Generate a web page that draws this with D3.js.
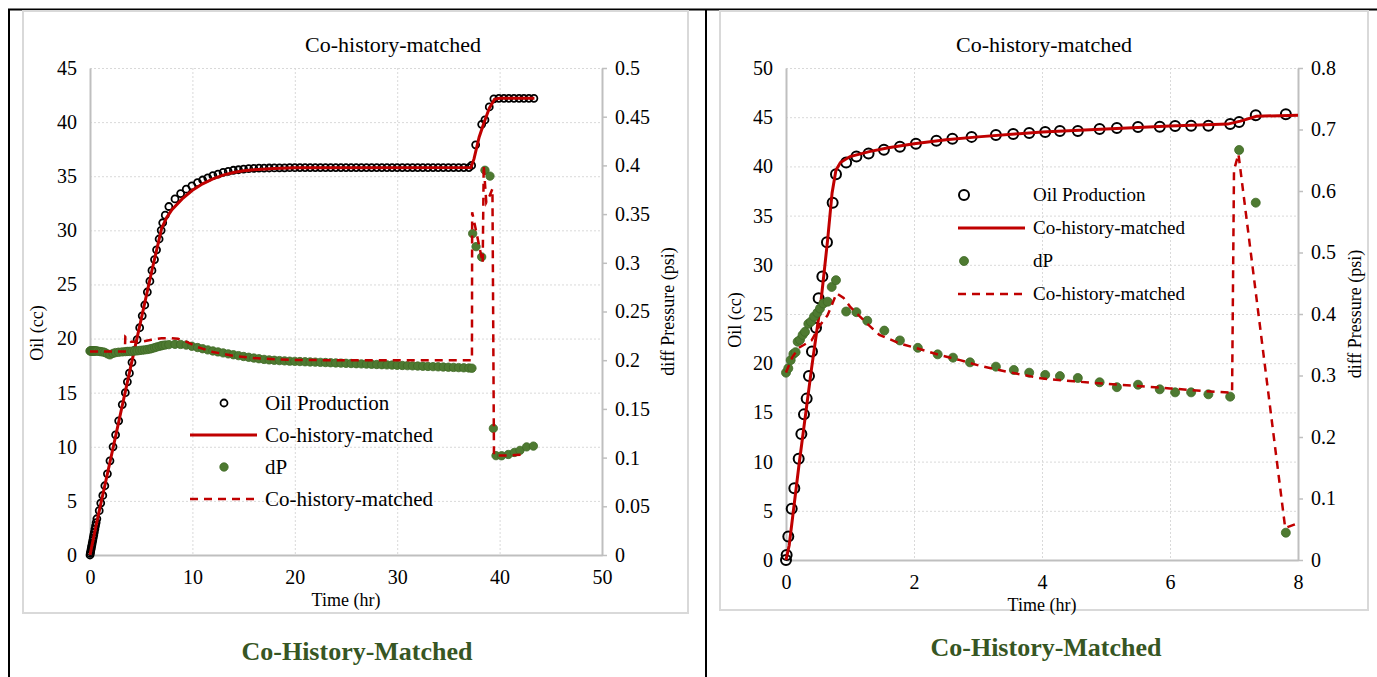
<!DOCTYPE html>
<html>
<head>
<meta charset="utf-8">
<script src="https://cdn.jsdelivr.net/npm/d3@7"></script>
<style>
body { margin: 0; background: #fff; }
svg text { font-family: "Liberation Serif", "Times New Roman", serif; fill: #000; }
</style>
</head>
<body>
<script>
// ---- left test (0-50 hr) ----
var leftOilTime = [0,0.03,0.06,0.1,0.14,0.18,0.22,0.27,0.32,0.37,0.42,0.48,0.54,0.6,0.67,
  0.9,1.05,1.25,1.45,1.7,1.95,2.25,2.5,2.8,3.15,3.45,3.65,3.85,4.1,4.35,4.6,4.85,5.1,5.35,5.6,5.85,6.05,6.3,6.5,6.75,6.95,7.1,7.35,7.7,
  8.3,8.85,9.4,9.95,10.5,11,11.5,12,12.5,13,13.5,14,14.5,15,15.5,16,
  16.5,17,17.5,18,18.5,19,19.5,20,20.5,21,21.5,22,22.5,23,23.5,24,24.5,25,25.5,26,26.5,27,27.5,28,28.5,29,29.5,30,30.5,31,31.5,32,32.5,33,33.5,34,34.5,35,35.5,36,36.5,37,
  37.27,37.66,38.25,38.57,38.99,39.44,39.93,40.42,40.9,41.4,41.9,42.37,42.86,43.35];
var leftOil = [0,0.15,0.3,0.5,0.7,0.9,1.1,1.35,1.6,1.85,2.1,2.4,2.7,3.0,3.35,
  4.1,4.8,5.5,6.4,7.5,8.7,10.0,11.1,12.4,13.9,15.0,16.0,16.8,17.8,18.9,19.9,21.0,22.1,23.1,24.3,25.3,26.3,27.3,28.2,29.2,30.0,30.7,31.4,32.2,
  32.9,33.4,33.8,34.1,34.4,34.65,34.85,35.05,35.2,35.35,35.45,35.55,35.6,35.65,35.7,35.72,
  35.74,35.75,35.76,35.77,35.78,35.78,35.79,35.79,35.8,35.8,35.8,35.8,35.8,35.8,35.8,35.8,35.8,35.8,35.8,35.8,35.8,35.8,35.8,35.8,35.8,35.8,35.8,35.8,35.8,35.8,35.8,35.8,35.8,35.8,35.8,35.8,35.8,35.8,35.8,35.8,35.8,35.8,
  36.0,37.9,39.8,40.2,41.4,42.15,42.2,42.2,42.2,42.2,42.2,42.2,42.2,42.2];

var leftMatchTime = [0,0.7,2,4,6,7,7.5,8,9,10,11,12,13,14,15,16,18,20,37.2,37.5,38,38.5,39,39.5,40,43.4];
var leftMatch = [0,3.2,8.8,17.5,26.1,30.2,31.2,31.9,32.9,33.7,34.3,34.75,35.1,35.35,35.5,35.6,35.72,35.78,35.8,36.6,38.6,40.0,41.3,42.1,42.2,42.2];

var leftDpTime = [0,0.05,0.1,0.15,0.2,0.25,0.3,0.35,0.4,0.45,0.5,0.6,0.7,
  0.9,1.05,1.25,1.45,1.7,1.95,2.25,2.5,2.8,3.15,3.45,3.65,3.85,4.1,4.35,4.6,4.85,5.1,5.35,5.6,5.85,6.05,6.3,6.5,6.75,6.95,7.1,7.35,7.7,
  8.3,8.85,9.4,9.95,10.5,11,11.5,12,12.5,13,13.5,14,14.5,15,15.5,16,16.5,17,17.5,18,18.5,19,19.5,20,20.5,21,21.5,22,22.5,23,23.5,24,24.5,25,
  25.5,26,26.5,27,27.5,28,28.5,29,29.5,30,30.5,31,31.5,32,32.5,33,33.5,34,34.5,35,35.5,36,36.5,37,37.3,
  37.37,37.7,38.25,38.57,39.06,39.39,39.65,40.2,40.85,41.44,41.99,42.64,43.3];
var leftDp = [0.2095,0.2095,0.2095,0.2095,0.2095,0.2095,0.2095,0.2095,0.2095,0.2095,0.2095,0.2095,0.2095,
  0.209,0.2088,0.2085,0.208,0.2065,0.2055,0.207,0.2078,0.2082,0.2085,0.2088,0.209,0.209,0.2092,0.2094,0.2096,0.21,0.2103,0.2106,0.211,0.2115,0.212,0.2128,0.2135,0.2142,0.2148,0.2152,0.2156,0.216,
  0.2163,0.2162,0.2155,0.2143,0.213,0.2118,0.2106,0.2095,0.2085,0.2075,0.2065,0.2056,0.2047,0.2038,0.203,0.2022,0.2015,0.2008,0.2003,0.1999,0.1996,0.1993,0.199,0.1988,0.1986,0.1984,0.1982,0.198,0.1978,0.1976,0.1974,0.1972,0.197,0.1968,
  0.1966,0.1964,0.1962,0.196,0.1958,0.1956,0.1954,0.1952,0.195,0.1948,0.1946,0.1944,0.1942,0.194,0.1938,0.1936,0.1934,0.1932,0.193,0.1928,0.1926,0.1924,0.1922,0.192,0.1918,
  0.330,0.3166,0.306,0.395,0.389,0.130,0.102,0.1019,0.1032,0.1053,0.1074,0.111,0.1118];

var leftFitTime = [0,3.4,3.45,4,5,6,7,7.8,8.6,9.4,10.5,12,14,16,18,20,23,30,37.3,37.32,37.6,38.35,38.45,38.7,39.0,39.3,39.45,40.5,41.5,42.6];
var leftFit = [0.209,0.209,0.224,0.219,0.219,0.221,0.2225,0.2228,0.222,0.219,0.2135,0.2085,0.2045,0.2022,0.201,0.2003,0.2,0.2,0.2,0.352,0.338,0.300,0.400,0.362,0.368,0.376,0.102,0.1022,0.1026,0.103];

// ---- right test (0-8 hr) ----
var rightOilTime = [0,0.01,0.036,0.089,0.13,0.198,0.24,0.281,0.323,0.359,0.406,0.469,0.51,0.568,0.64,0.729,0.781,
  0.94,1.1,1.29,1.53,1.78,2.03,2.35,2.6,2.9,3.28,3.55,3.8,4.05,4.28,4.56,4.9,5.17,5.5,5.84,6.08,6.33,6.6,6.94,7.08,7.34,7.81];
var rightOil = [0,0.5,2.4,5.2,7.3,10.3,12.8,14.8,16.4,18.7,21.2,23.6,26.6,28.8,32.3,36.3,39.2,
  40.4,41.0,41.3,41.7,42.0,42.3,42.6,42.8,43.0,43.2,43.3,43.4,43.5,43.6,43.6,43.8,43.9,44.0,44.03,44.1,44.14,44.14,44.3,44.5,45.2,45.3];

var rightMatchTime = [0,0.05,0.2,0.4,0.55,0.65,0.72,0.78,0.85,1.0,1.3,1.6,2.0,2.5,3,4,5,6,6.9,7.1,7.35,8.0];
var rightMatch = [0,1.5,9.5,19.5,26.5,32.5,37.3,39.6,40.4,41.0,41.5,41.9,42.3,42.7,43.0,43.5,43.8,44.1,44.3,44.6,45.1,45.2];

var rightDpTime = [0,0.036,0.073,0.115,0.15,0.182,0.219,0.26,0.297,0.349,0.39,0.4375,0.49,0.531,0.583,0.651,0.714,0.781,
  0.94,1.1,1.27,1.536,1.78,2.06,2.37,2.61,2.875,3.28,3.56,3.8,4.05,4.28,4.56,4.9,5.17,5.5,5.84,6.08,6.33,6.6,6.94,7.08,7.34,7.81];
var rightDp = [0.3046,0.3117,0.325,0.335,0.338,0.355,0.358,0.366,0.371,0.384,0.3875,0.3957,0.402,0.409,0.417,0.42,0.444,0.455,
  0.404,0.403,0.389,0.373,0.357,0.345,0.3344,0.329,0.3214,0.3144,0.309,0.3046,0.301,0.299,0.296,0.289,0.281,0.285,0.2775,0.2726,0.2726,0.2694,0.2656,0.6667,0.581,0.0444];

var rightFitTime = [0,0.1,0.2,0.4,0.52,0.65,0.79,0.9,1.0,1.26,1.46,1.78,2.1,2.41,2.72,3.04,3.46,3.98,4.5,5.0,5.5,6.0,6.5,6.97,7.0,7.07,7.8,8.0];
var rightFit = [0.305,0.33,0.345,0.357,0.38,0.398,0.4336,0.426,0.412,0.385,0.366,0.352,0.3426,0.333,0.325,0.3154,0.306,0.2954,0.2905,0.2865,0.283,0.279,0.275,0.272,0.634,0.66,0.052,0.06];

var legendLabels = ['Oil Production', 'Co-history-matched', 'dP', 'Co-history-matched'];
var chartTitle = 'Co-history-matched';
var caption = 'Co-History-Matched';

var RED = '#c00000', GREEN = '#4e7a31', GRID = '#d9d9d9', AXIS = '#bfbfbf';

var svg = d3.select('body').append('svg')
  .attr('width', 1377)
  .attr('height', 677);

// table borders
svg.append('line').attr('x1', 8).attr('x2', 1377).attr('y1', 9.5).attr('y2', 9.5).attr('stroke', '#000').attr('stroke-width', 2);
svg.append('line').attr('x1', 9).attr('x2', 9).attr('y1', 9).attr('y2', 677).attr('stroke', '#000').attr('stroke-width', 2);
svg.append('line').attr('x1', 706).attr('x2', 706).attr('y1', 9).attr('y2', 677).attr('stroke', '#000').attr('stroke-width', 2);

// chart frames
svg.append('rect').attr('x', 23).attr('y', 11).attr('width', 665).attr('height', 602)
  .attr('fill', 'none').attr('stroke', GRID).attr('stroke-width', 2);
svg.append('rect').attr('x', 720).attr('y', 11).attr('width', 648).attr('height', 599)
  .attr('fill', 'none').attr('stroke', GRID).attr('stroke-width', 2);

function fmt(d) { return String(+d.toFixed(2)); }

function panel(o) {
  var x = d3.scaleLinear().domain(o.xDomain).range([o.left, o.right]);
  var y = d3.scaleLinear().domain(o.yDomain).range([o.bottom, o.top]);
  var y2 = d3.scaleLinear().domain(o.y2Domain).range([o.bottom, o.top]);
  var g = svg.append('g');

  // grid
  g.selectAll('.hgrid').data(o.yTicks.slice(1)).enter().append('line')
    .attr('x1', o.left).attr('x2', o.right)
    .attr('y1', function(d) { return y(d) + 0.5; }).attr('y2', function(d) { return y(d) + 0.5; })
    .attr('stroke', GRID).attr('stroke-dasharray', '2,2');
  g.selectAll('.vgrid').data(o.xTicks.slice(1, -1)).enter().append('line')
    .attr('y1', o.top).attr('y2', o.bottom)
    .attr('x1', function(d) { return x(d) + 0.5; }).attr('x2', function(d) { return x(d) + 0.5; })
    .attr('stroke', GRID).attr('stroke-dasharray', '2,2');

  // axes
  var ax = g.append('g').attr('transform', 'translate(' + o.left + ',0)')
    .call(d3.axisLeft(y).tickValues(o.yTicks).tickSize(0).tickPadding(13).tickFormat(fmt));
  var bx = g.append('g').attr('transform', 'translate(0,' + o.bottom + ')')
    .call(d3.axisBottom(x).tickValues(o.xTicks).tickSize(0).tickPadding(15).tickFormat(fmt));
  var rx = g.append('g').attr('transform', 'translate(' + o.right + ',0)')
    .call(d3.axisRight(y2).tickValues(o.y2Ticks).tickSize(5).tickSizeOuter(0).tickPadding(8).tickFormat(fmt));
  [ax, bx, rx].forEach(function(a) {
    a.select('.domain').attr('stroke', AXIS).attr('stroke-width', 2);
    a.selectAll('.tick line').attr('stroke', AXIS).attr('stroke-width', 1.5);
    a.selectAll('text').attr('font-size', o.tickSize);
  });

  // series
  var solid = d3.line().x(function(d) { return x(d[0]); }).y(function(d) { return y(d[1]); });
  var dashed = d3.line().x(function(d) { return x(d[0]); }).y(function(d) { return y2(d[1]); });

  g.selectAll('.oil').data(d3.zip(o.oilTime, o.oil)).enter().append('circle')
    .attr('cx', function(d) { return x(d[0]); }).attr('cy', function(d) { return y(d[1]); })
    .attr('r', o.circleR).attr('fill', 'none').attr('stroke', '#000').attr('stroke-width', o.circleW);
  g.append('path').datum(d3.zip(o.matchTime, o.match)).attr('d', solid)
    .attr('fill', 'none').attr('stroke', RED).attr('stroke-width', 3);
  g.selectAll('.dp').data(d3.zip(o.dpTime, o.dp)).enter().append('circle')
    .attr('cx', function(d) { return x(d[0]); }).attr('cy', function(d) { return y2(d[1]); })
    .attr('r', o.dotR).attr('fill', GREEN).attr('stroke', '#3f6a26').attr('stroke-width', 0.8);
  g.append('path').datum(d3.zip(o.fitTime, o.fit)).attr('d', dashed)
    .attr('fill', 'none').attr('stroke', RED).attr('stroke-width', 2.5).attr('stroke-dasharray', '8,6');

  // titles
  g.append('text').attr('x', o.titleX).attr('y', 52).attr('text-anchor', 'middle')
    .attr('font-size', o.titleSize).text(chartTitle);
  g.append('text').attr('x', (o.left + o.right) / 2).attr('y', o.bottom + 51).attr('text-anchor', 'middle')
    .attr('font-size', 18).text('Time (hr)');
  g.append('text').attr('transform', 'translate(' + o.yLabelX + ',' + o.yLabelY + ') rotate(-90)')
    .attr('text-anchor', 'middle').attr('font-size', 18).text('Oil (cc)');
  g.append('text').attr('transform', 'translate(' + o.y2LabelX + ',' + (o.top + o.bottom) / 2 + ') rotate(-90)')
    .attr('text-anchor', 'middle').attr('font-size', 18).text('diff Pressure (psi)');

  // legend
  var lg = g.append('g');
  o.legendY.forEach(function(ly, i) {
    if (i === 0) {
      lg.append('circle').attr('cx', o.legendMarkX).attr('cy', ly).attr('r', o.circleR)
        .attr('fill', 'none').attr('stroke', '#000').attr('stroke-width', o.circleW);
    } else if (i === 2) {
      lg.append('circle').attr('cx', o.legendMarkX).attr('cy', ly).attr('r', o.dotR)
        .attr('fill', GREEN).attr('stroke', '#3f6a26').attr('stroke-width', 0.8);
    } else {
      lg.append('line').attr('x1', o.legendLine[0]).attr('x2', o.legendLine[1]).attr('y1', ly).attr('y2', ly)
        .attr('stroke', RED).attr('stroke-width', i === 1 ? 3 : 2.5)
        .attr('stroke-dasharray', i === 1 ? null : '8,6');
    }
    lg.append('text').attr('x', o.legendTextX).attr('y', ly + o.legendSize * 0.33)
      .attr('font-size', o.legendSize).text(legendLabels[i]);
  });

  // caption under the chart
  g.append('text').attr('x', o.captionX).attr('y', o.captionY).attr('text-anchor', 'middle')
    .attr('font-size', 26).attr('font-weight', 'bold').style('fill', '#375623').text(caption);
}

panel({
  left: 90, right: 602, top: 68, bottom: 555,
  xDomain: [0, 50], xTicks: [0, 10, 20, 30, 40, 50],
  yDomain: [0, 45], yTicks: [0, 5, 10, 15, 20, 25, 30, 35, 40, 45],
  y2Domain: [0, 0.5], y2Ticks: [0, 0.05, 0.1, 0.15, 0.2, 0.25, 0.3, 0.35, 0.4, 0.45, 0.5],
  oilTime: leftOilTime, oil: leftOil, matchTime: leftMatchTime, match: leftMatch,
  dpTime: leftDpTime, dp: leftDp, fitTime: leftFitTime, fit: leftFit,
  circleR: 3.5, circleW: 1.8, dotR: 4.2,
  tickSize: 20, titleSize: 22, titleX: 393,
  yLabelX: 43, yLabelY: 333, y2LabelX: 674,
  legendY: [403, 435, 467, 499], legendMarkX: 224, legendLine: [190, 257], legendTextX: 265, legendSize: 21,
  captionX: 357, captionY: 660
});

panel({
  left: 786, right: 1298, top: 68, bottom: 560,
  xDomain: [0, 8], xTicks: [0, 2, 4, 6, 8],
  yDomain: [0, 50], yTicks: [0, 5, 10, 15, 20, 25, 30, 35, 40, 45, 50],
  y2Domain: [0, 0.8], y2Ticks: [0, 0.1, 0.2, 0.3, 0.4, 0.5, 0.6, 0.7, 0.8],
  oilTime: rightOilTime, oil: rightOil, matchTime: rightMatchTime, match: rightMatch,
  dpTime: rightDpTime, dp: rightDp, fitTime: rightFitTime, fit: rightFit,
  circleR: 5, circleW: 2, dotR: 4.5,
  tickSize: 20, titleSize: 22, titleX: 1044,
  yLabelX: 741, yLabelY: 320, y2LabelX: 1361,
  legendY: [195, 228, 261, 294], legendMarkX: 964, legendLine: [958, 1025], legendTextX: 1033, legendSize: 19,
  captionX: 1046, captionY: 656
});
</script>
</body>
</html>
